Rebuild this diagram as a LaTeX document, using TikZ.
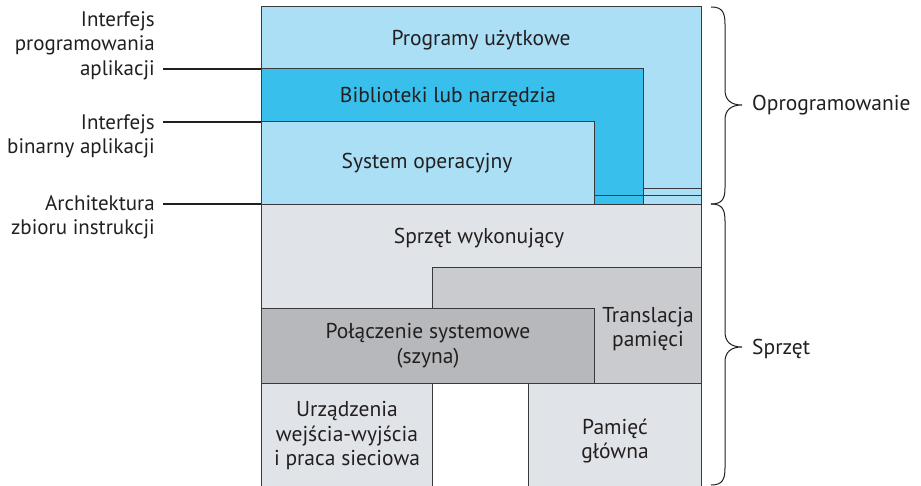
\documentclass[tikz,border=0pt]{standalone}
\usepackage{fontspec}
\setmainfont{PT Sans}
\begin{document}
\begin{tikzpicture}[x=1pt,y=-1pt,
  txt/.style={font=\fontsize{21.5}{24.5}\selectfont, text=ink, align=center, inner sep=0pt},
  lbl/.style={font=\fontsize{21}{24.8}\selectfont, text=ink, align=right, inner sep=0pt},
  side/.style={font=\fontsize{21.5}{24}\selectfont, text=ink, anchor=west, inner sep=0pt},
  boxline/.style={draw=edge, line width=1pt},
  leader/.style={draw=ink, line width=1.5pt},
  bracestyle/.style={draw=ink, line width=1pt}]
\definecolor{ink}{HTML}{231F20}
\definecolor{edge}{HTML}{3A3A3C}
\definecolor{lblue}{HTML}{AADFF6}
\definecolor{dblue}{HTML}{38BFEB}
\definecolor{lgray}{HTML}{E0E4E8}
\definecolor{mgray}{HTML}{C9CBCE}
\definecolor{dgray}{HTML}{B7B8BB}
\useasboundingbox (0,0) rectangle (921,486);
\fill[white] (0,0) rectangle (921,486);
% software area
\path[fill=lblue, boxline] (261,7) rectangle (701,205);
\path[fill=dblue, boxline] (261,69) -- (643,69) -- (643,205) -- (594,205) -- (594,122) -- (261,122) -- cycle;
\draw[boxline] (643,189) -- (701,189);
\draw[boxline] (594,196) -- (701,196);
% hardware area
\fill[lgray] (261,205) rectangle (701,486);
\path[fill=mgray, boxline] (432,268) -- (701,268) -- (701,383) -- (432,383) -- cycle;
\path[fill=dgray, boxline] (261,309) rectangle (594,383);
\fill[white] (432,383) rectangle (528,486);
\draw[boxline] (432,383) -- (432,486);
\draw[boxline] (528,383) -- (528,486);
\draw[boxline] (261,383) -- (701,383);
\draw[boxline] (261,205) -- (701,205);
\draw[boxline] (261,7) -- (261,486);
\draw[boxline] (701,7) -- (701,486);
% texts
\node[txt] (prog) at (481,40) {Programy użytkowe};
\node[txt] (bibl) at (448,97) {Biblioteki lub narzędzia};
\node[txt] (os) at (427,163) {System operacyjny};
\node[txt] (exec) at (479,238) {Sprzęt wykonujący};
\node[txt] (bus) at (428,346) {Połączenie systemowe\\(szyna)};
\node[txt] (mmu) at (648,329) {Translacja\\pamięci};
\node[txt] (io) at (347,436) {Urządzenia\\wejścia-wyjścia\\i praca sieciowa};
\node[txt] (mem) at (615,441) {Pamięć\\główna};
% left labels
\node[lbl, anchor=north east] (api) at (155,11) {Interfejs\\programowania\\aplikacji};
\node[lbl, anchor=north east] (abi) at (155,114) {Interfejs\\binarny aplikacji};
\node[lbl, anchor=north east] (isa) at (155,195) {Architektura\\zbioru instrukcji};
\coordinate (apiS) at (163,69);
\coordinate (abiS) at (163,122);
\coordinate (isaS) at (163,204);
\coordinate (apiE) at (261,69);
\coordinate (abiE) at (261,122);
\coordinate (isaE) at (261,204);
\draw[leader] (apiS) -- (apiE);
\draw[leader] (abiS) -- (abiE);
\draw[leader] (isaS) -- (isaE);
% braces
\draw[bracestyle] (711,7) .. controls (722,7) and (725,12) .. (725,24) -- (725,90) .. controls (725,100) and (731,105) .. (742,105)
  .. controls (731,105) and (725,110) .. (725,120) -- (725,188) .. controls (725,199) and (722,204) .. (711,204);
\draw[bracestyle] (711,204) .. controls (722,204) and (725,209) .. (725,221) -- (725,332) .. controls (725,342) and (731,347) .. (742,347)
  .. controls (731,347) and (725,352) .. (725,362) -- (725,468) .. controls (725,480) and (722,485) .. (711,485);
\node[side] (sw) at (752,105) {Oprogramowanie};
\node[side] (hw) at (752,349) {Sprzęt};
\end{tikzpicture}
\end{document}
